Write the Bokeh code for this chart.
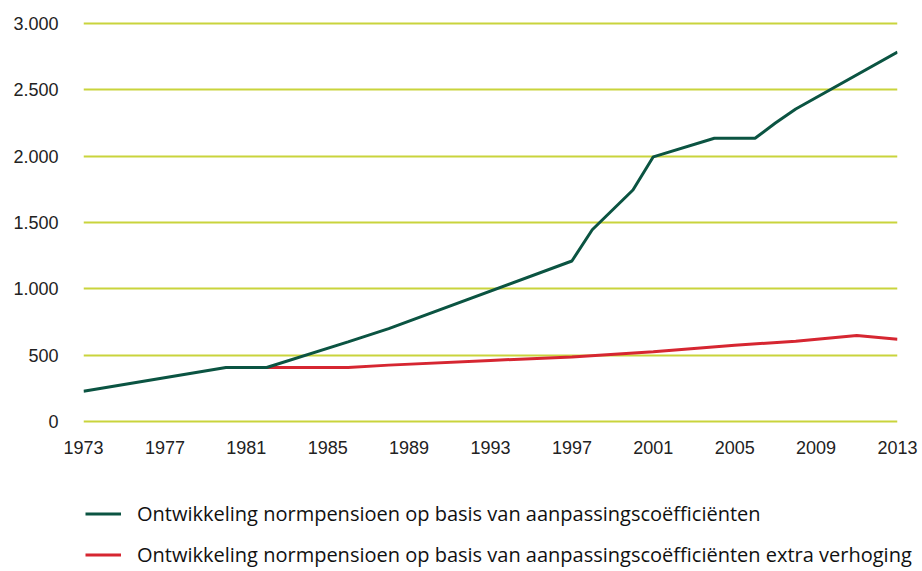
from bokeh.plotting import figure
from bokeh.layouts import column, row
from bokeh.models import Range1d, FixedTicker, Legend, LegendItem, CustomJSTickFormatter
from bokeh.embed import file_html
from bokeh.resources import INLINE

# Data
years_norm = [1973, 1980, 1982, 1986, 1988, 1997, 1998, 2000, 2001, 2004, 2006, 2007, 2008, 2013]
norm_values = [228, 407, 407, 600, 700, 1210, 1445, 1745, 1995, 2135, 2135, 2250, 2355, 2785]

years_extra = [1982, 1986, 1988, 1993, 1997, 2001, 2005, 2008, 2011, 2013]
extra_values = [407, 407, 425, 460, 487, 525, 575, 605, 648, 620]

x_ticks = [1973, 1977, 1981, 1985, 1989, 1993, 1997, 2001, 2005, 2009, 2013]
y_ticks = [0, 500, 1000, 1500, 2000, 2500, 3000]

label_norm = "Ontwikkeling normpensioen op basis van aanpassingscoëfficiënten"
label_extra = "Ontwikkeling normpensioen op basis van aanpassingscoëfficiënten extra verhoging"

GREEN = "#0b5442"
RED = "#d62631"
GRID = "#c9d43c"
FONT = "Liberation Sans"
LEGEND_FONT = "Open Sans"

p = figure(width=922, height=463, output_backend="svg", toolbar_location=None,
           x_range=Range1d(1973, 2013), y_range=Range1d(-15, 3015),
           min_border_left=83, min_border_right=25, min_border_top=21, min_border_bottom=40)
p.outline_line_color = None
p.background_fill_color = "white"
p.border_fill_color = "white"

for ax in (p.xaxis[0], p.yaxis[0]):
    ax.axis_line_color = None
    ax.major_tick_line_color = None
    ax.minor_tick_line_color = None
    ax.major_tick_out = 0
    ax.major_tick_in = 0
    ax.minor_tick_out = 0
    ax.minor_tick_in = 0
    ax.major_label_text_font = FONT
    ax.major_label_text_font_size = "18px"
    ax.major_label_text_color = "#222222"

p.xaxis.ticker = FixedTicker(ticks=x_ticks)
p.yaxis.ticker = FixedTicker(ticks=y_ticks)
p.yaxis.formatter = CustomJSTickFormatter(code="return tick.toLocaleString('de-DE');")
p.xaxis.major_label_standoff = 17
p.yaxis.major_label_standoff = 25

p.xgrid.grid_line_color = None
p.ygrid.grid_line_color = GRID
p.ygrid.grid_line_width = 2

p.line(years_extra, extra_values, line_color=RED, line_width=3)
p.line(years_norm, norm_values, line_color=GREEN, line_width=3)

# Legend panel below the chart
lg = figure(width=922, height=108, output_backend="svg", toolbar_location=None,
            x_axis_type=None, y_axis_type=None,
            min_border_left=0, min_border_right=0, min_border_top=0, min_border_bottom=0)
lg.outline_line_color = None
lg.xgrid.grid_line_color = None
lg.ygrid.grid_line_color = None
k_norm = lg.line([0], [0], line_color=GREEN, line_width=3)
k_extra = lg.line([0], [0], line_color=RED, line_width=3)

legend = Legend(items=[LegendItem(label=label_norm, renderers=[k_norm]),
                       LegendItem(label=label_extra, renderers=[k_extra])],
                location=(85, 3), orientation="vertical",
                glyph_width=36, glyph_height=21, label_height=21, spacing=14,
                label_standoff=16, padding=0, margin=0,
                border_line_color=None, background_fill_alpha=0,
                label_text_font=LEGEND_FONT, label_text_font_size="20px",
                label_text_color="#111111")
lg.add_layout(legend, "center")

layout = column(p, row(lg, spacing=0), spacing=0)
open("out.html", "w").write(file_html(layout, INLINE))
